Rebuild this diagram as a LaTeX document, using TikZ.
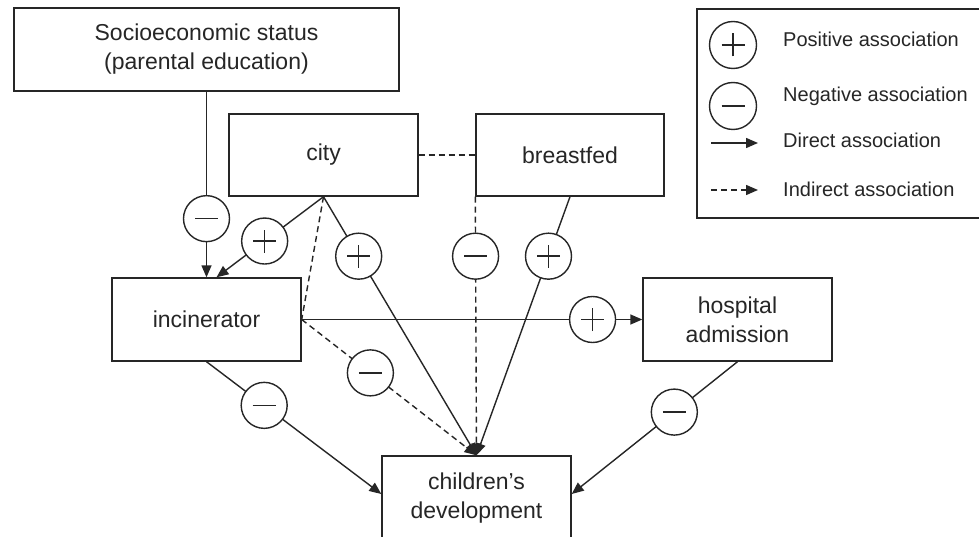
\documentclass[tikz,border=0pt]{standalone}
\usepackage{fontspec}
\setmainfont{Liberation Sans}
\usetikzlibrary{arrows.meta,calc}
\definecolor{ink}{HTML}{262626}
\begin{document}
\begin{tikzpicture}[x=1pt,y=-1pt,
  line/.style={draw=ink, line width=1.4pt},
  tip/.style={-{Triangle[length=12pt,width=10pt]}},
  dsh/.style={dash pattern=on 6pt off 4pt},
  box/.style={draw=ink, line width=1.4pt, rectangle, minimum width=189pt,
    minimum height=83pt, inner sep=0pt, align=center,
    font=\fontsize{23}{29}\selectfont, text=ink},
  legtext/.style={inner sep=0pt, font=\fontsize{20}{24}\selectfont, text=ink},
  signc/.style={circle, draw=ink, solid, line width=1.4pt, fill=white,
    minimum size=46pt, inner sep=0pt},
  minuss/.style={signc, path picture={
    \draw[ink, line width=1.4pt, solid, -]
      ([xshift=-11.5pt]path picture bounding box.center) --
      ([xshift=11.5pt]path picture bounding box.center);}},
  pluss/.style={signc, path picture={
    \draw[ink, line width=1.4pt, solid, -]
      ([xshift=-11.5pt]path picture bounding box.center) --
      ([xshift=11.5pt]path picture bounding box.center)
      ([yshift=-11.5pt]path picture bounding box.center) --
      ([yshift=11.5pt]path picture bounding box.center);}},
]
\fill[white] (0,0) rectangle (979,537);
\useasboundingbox (0,0) rectangle (979,537);

% variables
\node[box, minimum width=385pt] (ses) at (206.5,49.5)
  {Socioeconomic status\\(parental education)};
\node[box, minimum height=82pt] (city) at (323.5,155) {city};
\node[box, minimum width=188pt, minimum height=82pt] (bf) at (570,155) {breastfed};
\node[box] (inc) at (206.5,319.5) {incinerator};
\node[box] (hosp) at (737.5,319.5) {hospital\\admission};
\node[box, minimum height=84pt] (kids) at (476.5,498) {children's\\development};

% associations
\draw[line, dsh] (city.east) -- (bf.west);
\draw[line, tip] (ses.south) -- node[minuss, pos=0.684] (m1) {} (inc.north);
\draw[line, tip] (city.south) -- node[pluss, pos=0.55] (p1) {} ([xshift=10pt]inc.north);
\draw[line, dsh] (city.south) -- (inc.east);
\draw[line, tip] (city.south) -- node[pluss, pos=0.23] (p2) {} (kids.north);
\draw[line, dsh, tip] (bf.south west) -- node[minuss, pos=0.23] (m2) {} (kids.north);
\draw[line, tip] (bf.south) -- node[pluss, pos=0.23] (p3) {} (kids.north);
\draw[line, dsh, tip] (inc.east) -- node[minuss, pos=0.393] (m3) {} (kids.north);
\draw[line, tip] (inc.east) -- node[pluss, pos=0.854] (p4) {} (hosp.west);
\draw[line, tip] (inc.south) -- node[minuss, pos=0.33] (m4) {} ([yshift=4pt]kids.west);
\draw[line, tip] (hosp.south) -- node[minuss, pos=0.381] (m5) {} ([yshift=4pt]kids.east);

% legend
\node[draw=ink, line width=1.4pt, minimum width=290pt, minimum height=209pt,
  inner sep=0pt] (legend) at (842,113.5) {};
\node[pluss, minimum size=47pt] (lp) at (733,45) {};
\node[minuss, minimum size=47pt] (lm) at (733,106) {};
\coordinate (d1) at (711,143);
\coordinate (d2) at (758,143);
\coordinate (i1) at (711,190);
\coordinate (i2) at (758,190);
\draw[line, tip] (d1) -- (d2);
\draw[line, dsh, tip] (i1) -- (i2);
\node[legtext, anchor=base west] (lt1) at (783,47) {Positive association};
\node[legtext, anchor=base west] (lt2) at (783,102) {Negative association};
\node[legtext, anchor=base west] (lt3) at (783,148) {Direct association};
\node[legtext, anchor=base west] (lt4) at (783,197) {Indirect association};
\end{tikzpicture}
\end{document}
